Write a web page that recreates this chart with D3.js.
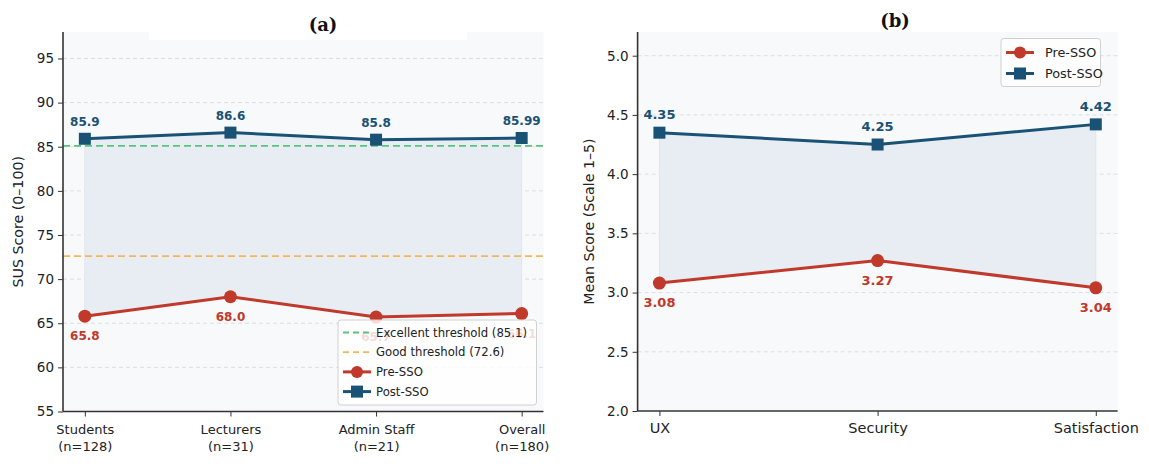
<!DOCTYPE html>
<html><head><meta charset="utf-8">
<script src="https://cdn.jsdelivr.net/npm/d3@7"></script>
<style>
body{margin:0;background:#fff;}
text{font-family:"DejaVu Sans",sans-serif;}
</style></head>
<body><svg id="c" width="1149" height="464"></svg>
<script>
const groupsA = ["Students\n(n=128)", "Lecturers\n(n=31)", "Admin Staff\n(n=21)", "Overall\n(n=180)"];
const preA = [65.8, 68.0, 65.7, 66.1];
const postA = [85.9, 86.6, 85.8, 85.99];
const preALabels = ["65.8", "68.0", "65.7", "66.1"];
const postALabels = ["85.9", "86.6", "85.8", "85.99"];
const ticksA = [55, 60, 65, 70, 75, 80, 85, 90, 95];
const thresholds = [{name: "Excellent threshold (85.1)", value: 85.1, color: "#58c47e"}, {name: "Good threshold (72.6)", value: 72.6, color: "#f5b755"}];

const dimsB = ["UX", "Security", "Satisfaction"];
const preB = [3.08, 3.27, 3.04];
const postB = [4.35, 4.25, 4.42];
const ticksB = [2.0, 2.5, 3.0, 3.5, 4.0, 4.5, 5.0];

const RED = "#c0392b", BLUE = "#1a5276";
const svg = d3.select("#c");

function panel(o) {
  const g = svg.append("g");
  const x = d3.scaleLinear().domain(o.xdom).range([o.left, o.right]);
  const y = d3.scaleLinear().domain(o.ydom).range([o.bottom, o.top]);
  g.append("rect").attr("x", o.left).attr("y", o.top).attr("width", o.right - o.left).attr("height", o.bottom - o.top).attr("fill", "#f8f9fb");
  if (o.whiteBox) g.append("rect").attr("x", o.whiteBox[0]).attr("y", o.top).attr("width", o.whiteBox[1] - o.whiteBox[0]).attr("height", 8).attr("fill", "#fff");
  // grid
  g.selectAll(".grid").data(o.ticks.slice(1)).enter().append("line")
    .attr("x1", o.left).attr("x2", o.right).attr("y1", d => y(d)).attr("y2", d => y(d))
    .attr("stroke", "#dcdee2").attr("stroke-width", 1).attr("stroke-dasharray", "4,3");
  const idx = d3.range(o.cats.length);
  // fill between
  const area = d3.area().x(i => x(i)).y0(i => y(o.pre[i])).y1(i => y(o.post[i]));
  g.append("path").datum(idx).attr("d", area).attr("fill", "#e8edf4").attr("stroke", "#dfe5ee").attr("stroke-width", 1);
  // thresholds
  (o.thresholds || []).forEach(t => {
    g.append("line").attr("x1", o.left).attr("x2", o.right).attr("y1", y(t.value)).attr("y2", y(t.value))
      .attr("stroke", t.color).attr("stroke-width", 1.8).attr("stroke-dasharray", "7,4");
  });
  const line = d3.line().x(i => x(i));
  g.append("path").datum(idx).attr("d", line.y(i => y(o.pre[i]))).attr("fill", "none").attr("stroke", RED).attr("stroke-width", 3);
  g.append("path").datum(idx).attr("d", line.y(i => y(o.post[i]))).attr("fill", "none").attr("stroke", BLUE).attr("stroke-width", 3);
  g.selectAll(".pm").data(idx).enter().append("circle").attr("cx", i => x(i)).attr("cy", i => y(o.pre[i])).attr("r", 6.5).attr("fill", RED);
  g.selectAll(".qm").data(idx).enter().append("rect").attr("x", i => x(i) - 6).attr("y", i => y(o.post[i]) - 6).attr("width", 12).attr("height", 12).attr("fill", BLUE);
  // labels
  g.selectAll(".pl").data(idx).enter().append("text").attr("x", i => x(i)).attr("y", i => y(o.pre[i]) + o.preOff)
    .attr("text-anchor", "middle").attr("font-size", o.labFs).attr("font-weight", "bold").attr("fill", RED).text(i => o.preLabels[i]);
  g.selectAll(".ql").data(idx).enter().append("text").attr("x", i => x(i)).attr("y", i => y(o.post[i]) - o.postOff)
    .attr("text-anchor", "middle").attr("font-size", o.labFs).attr("font-weight", "bold").attr("fill", BLUE).text(i => o.postLabels[i]);
  // axes
  const ya = d3.axisLeft(y).tickValues(o.ticks).tickFormat(o.fmt).tickSize(5).tickPadding(4);
  const yg = g.append("g").attr("transform", `translate(${o.left},0)`).call(ya);
  yg.select(".domain").attr("stroke", "#333").attr("stroke-width", 1.6).attr("d", `M0,${o.top}V${o.bottom}`);
  yg.selectAll("text").attr("font-size", 13.5).attr("fill", "#222");
  yg.selectAll(".tick line").attr("stroke", "#333");
  const xa = d3.axisBottom(x).tickValues(idx).tickFormat(() => "").tickSize(5);
  const xg = g.append("g").attr("transform", `translate(0,${o.bottom})`).call(xa);
  xg.select(".domain").attr("stroke", "#333").attr("stroke-width", 1.6).attr("d", `M${o.left},0H${o.right}`);
  xg.selectAll(".tick line").attr("stroke", "#333");
  xg.selectAll(".tick").each(function(i) {
    const lines = o.cats[i].split("\n");
    const t = d3.select(this).append("text").attr("fill", "#222").attr("font-size", o.xFs).attr("text-anchor", "middle").attr("y", 22);
    lines.forEach((l, k) => t.append("tspan").attr("x", 0).attr("dy", k ? 17 : 0).text(l));
  });
  // y label
  g.append("text").attr("transform", `translate(${o.ylabX},${(o.top + o.bottom) / 2}) rotate(-90)`)
    .attr("text-anchor", "middle").attr("font-size", 14.2).attr("fill", "#222").text(o.ylab);
  // title
  g.append("text").attr("x", o.titleX).attr("y", o.titleY).attr("text-anchor", "middle")
    .attr("font-weight", "bold").attr("font-size", 18).attr("fill", "#111")
    .style("font-family", "'DejaVu Serif', serif").text(o.title);
  // legend
  const L = o.legend;
  const lg = g.append("g");
  lg.append("rect").attr("x", L.x).attr("y", L.y).attr("width", L.w).attr("height", L.h).attr("rx", 3)
    .attr("fill", "#fff").attr("fill-opacity", 0.82).attr("stroke", "#d0d0d0");
  L.items.forEach((it, k) => {
    const yy = L.y + L.first + k * L.step;
    const x0 = L.x + 5, x1 = x0 + 28;
    lg.append("line").attr("x1", x0).attr("x2", x1).attr("y1", yy).attr("y2", yy).attr("stroke", it.color)
      .attr("stroke-width", it.type === "dash" ? 1.8 : 3).attr("stroke-dasharray", it.type === "dash" ? "6,4" : null);
    if (it.type === "circle") lg.append("circle").attr("cx", (x0 + x1) / 2).attr("cy", yy).attr("r", 6).attr("fill", it.color);
    if (it.type === "square") lg.append("rect").attr("x", (x0 + x1) / 2 - 6).attr("y", yy - 6).attr("width", 12).attr("height", 12).attr("fill", it.color);
    lg.append("text").attr("x", L.x + L.textDx).attr("y", yy + L.fs * 0.36).attr("font-size", L.fs).attr("fill", "#222").text(it.name);
  });
}

panel({
  cats: groupsA, pre: preA, post: postA, preLabels: preALabels, postLabels: postALabels,
  xdom: [-0.15, 3.15], ydom: [55, 98], left: 63, right: 543.5, top: 32, bottom: 411.5,
  ticks: ticksA, fmt: d3.format("d"), thresholds: thresholds, whiteBox: [149, 467],
  labFs: 12, preOff: 24, postOff: 12.5, xFs: 13,
  ylab: "SUS Score (0–100)", ylabX: 23, title: "(a)", titleX: 323, titleY: 31,
  legend: {x: 338, y: 320, w: 198.5, h: 85, first: 12.5, step: 19.7, fs: 11.7, textDx: 38, items: [
    {name: thresholds[0].name, color: thresholds[0].color, type: "dash"},
    {name: thresholds[1].name, color: thresholds[1].color, type: "dash"},
    {name: "Pre-SSO", color: RED, type: "circle"},
    {name: "Post-SSO", color: BLUE, type: "square"}]}
});

panel({
  cats: dimsB, pre: preB, post: postB, preLabels: preB.map(d3.format(".2f")), postLabels: postB.map(d3.format(".2f")),
  xdom: [-0.1, 2.1], ydom: [2, 5.2], left: 637.6, right: 1117.6, top: 32, bottom: 411,
  ticks: ticksB, fmt: d3.format(".1f"),
  labFs: 13, preOff: 24, postOff: 13.5, xFs: 14.5,
  ylab: "Mean Score (Scale 1–5)", ylabX: 594, title: "(b)", titleX: 895, titleY: 27,
  legend: {x: 1001, y: 38.5, w: 99.5, h: 48, first: 14, step: 21, fs: 12.8, textDx: 44, items: [
    {name: "Pre-SSO", color: RED, type: "circle"},
    {name: "Post-SSO", color: BLUE, type: "square"}]}
});
</script></body></html>
